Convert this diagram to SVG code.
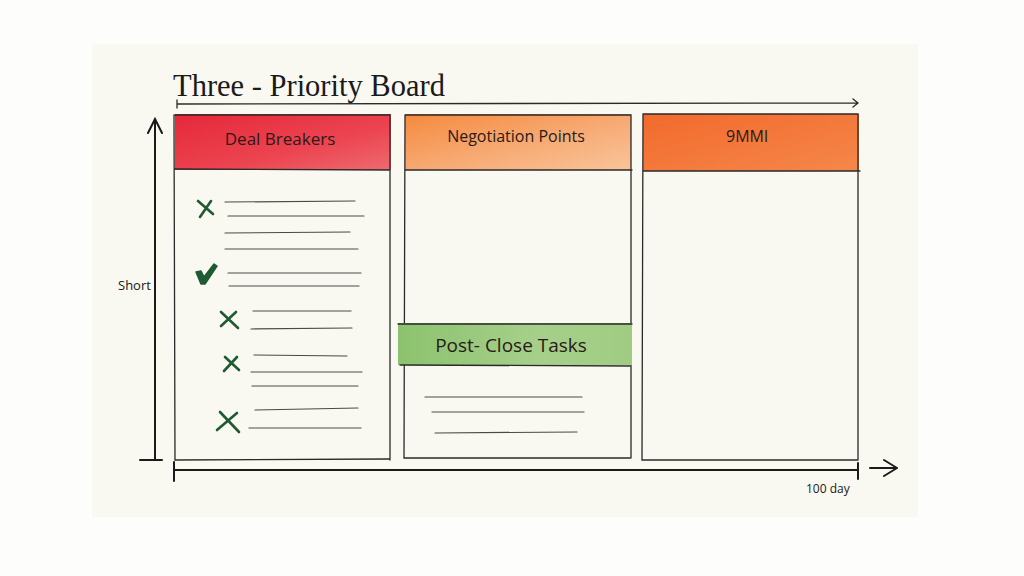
<svg xmlns="http://www.w3.org/2000/svg" width="1024" height="576" viewBox="0 0 1024 576">
<defs>
<style>
.ln{fill:none;stroke:#2a2a2a;stroke-width:1.3;stroke-linecap:round}
.ax{fill:none;stroke:#1a1a1a;stroke-width:2;stroke-linecap:round}
.row{fill:none;stroke:#4a4a4a;stroke-width:1.2;stroke-linecap:round}
.mk{fill:none;stroke:#1f5a32;stroke-width:2.6;stroke-linecap:round;stroke-linejoin:round}
.hd{font-family:"Open Sans","Liberation Sans",sans-serif;fill:#2a1a18;text-anchor:middle}
.sm{font-family:"Open Sans","Liberation Sans",sans-serif;fill:#1a1a1a}
</style>
<linearGradient id="gRed" x1="0" y1="0" x2="1" y2="1">
<stop offset="0" stop-color="#e5283a"/><stop offset="0.6" stop-color="#ec4450"/><stop offset="1" stop-color="#ee6a6f"/>
</linearGradient>
<linearGradient id="gOr1" x1="0" y1="0" x2="1" y2="1">
<stop offset="0" stop-color="#f58a3e"/><stop offset="0.5" stop-color="#f7a870"/><stop offset="1" stop-color="#f9c49a"/>
</linearGradient>
<linearGradient id="gOr2" x1="0" y1="0" x2="1" y2="1">
<stop offset="0" stop-color="#f26a2c"/><stop offset="1" stop-color="#f5874a"/>
</linearGradient>
<linearGradient id="gGr" x1="0" y1="0" x2="1" y2="0">
<stop offset="0" stop-color="#8cc26e"/><stop offset="0.6" stop-color="#a6d08a"/><stop offset="1" stop-color="#9fcc82"/>
</linearGradient>
</defs>
<rect width="1024" height="576" fill="#fdfdfc"/>
<rect x="92" y="44" width="826" height="473" fill="#f9f8f1"/>

<g id="title">
<text x="173" y="96" font-family="Liberation Serif,serif" font-size="30.5" fill="#1a1a1a">Three - Priority Board</text>
<path class="ln" d="M177 104 L858 103 M177 100 L177 108 M853 99 L858 103 L853 107"/>
</g>

<g id="col-deal-breakers">
<rect x="175" y="114" width="216" height="56" fill="url(#gRed)"/>
<path class="ln" d="M175 115 L390 115 L390 460 M174 115 L175 460 L389 459 M175 169 L390 170"/>
<text class="hd" x="280" y="145" font-size="17">Deal Breakers</text>
</g>

<g id="col-negotiation">
<rect x="405" y="114" width="226" height="56" fill="url(#gOr1)"/>
<path class="ln" d="M405 115 L631 115 L631 458 M405 115 L404 458 L630 458 M405 170 L632 170"/>
<text class="hd" x="516" y="142" font-size="16">Negotiation Points</text>
</g>

<g id="col-third">
<rect x="643" y="114" width="216" height="57" fill="url(#gOr2)"/>
<path class="ln" d="M643 114 L858 114 L858 460 M643 114 L642 460 L858 460 M643 171 L860 171"/>
<text class="hd" x="747" y="142" font-size="16">9MMl</text>
</g>

<g id="post-close-tasks">
<rect x="398" y="323" width="234" height="42" fill="url(#gGr)"/>
<path class="ln" d="M398 324 L632 324 M400 365 L630 366"/>
<text class="hd" x="511" y="352" font-size="19">Post- Close Tasks</text>
<path class="row" d="M425 397 L582 397 M432 412 L584 412 M435 433 L577 432"/>
</g>

<g id="deal-items">
<path class="mk" d="M198 201 L213 214 M211 201 L200 217"/>
<path class="row" d="M225 202 L355 201 M228 216 L364 216 M225 233 L350 232 M225 249 L358 249"/>
<path d="M196 272 L201 271 L204 277 L214 264 L217 266 L205 284 L201 284 Z" fill="#1f5a32" stroke="#1f5a32" stroke-width="1.5" stroke-linejoin="round"/>
<path class="row" d="M228 273 L361 273 M229 286 L359 286"/>
<path class="mk" d="M221 312 L238 328 M236 312 L221 326"/>
<path class="row" d="M253 311 L351 311 M251 329 L352 328"/>
<path class="mk" d="M225 357 L239 370 M237 357 L224 371"/>
<path class="row" d="M254 355 L347 356 M251 372 L362 372 M252 386 L358 386"/>
<path class="mk" d="M220 412 L239 432 M237 413 L217 430"/>
<path class="row" d="M255 410 L358 408 M249 428 L361 428"/>
</g>

<g id="connectors">
<path class="ax" d="M155 121 L155 460 M148 133 L155 119 L162 133 M140 460 L162 460"/>
<path class="ax" d="M175 470 L858 470 M174 462 L174 481 M858 463 L858 479 M870 468 L896 468 M884 460 L897 468 M884 476 L897 468"/>
</g>

<g id="axis-labels">
<text class="sm" x="118" y="290" font-size="13">Short</text>
<text class="sm" x="806" y="493" font-size="12">100 day</text>
</g>
</svg>
